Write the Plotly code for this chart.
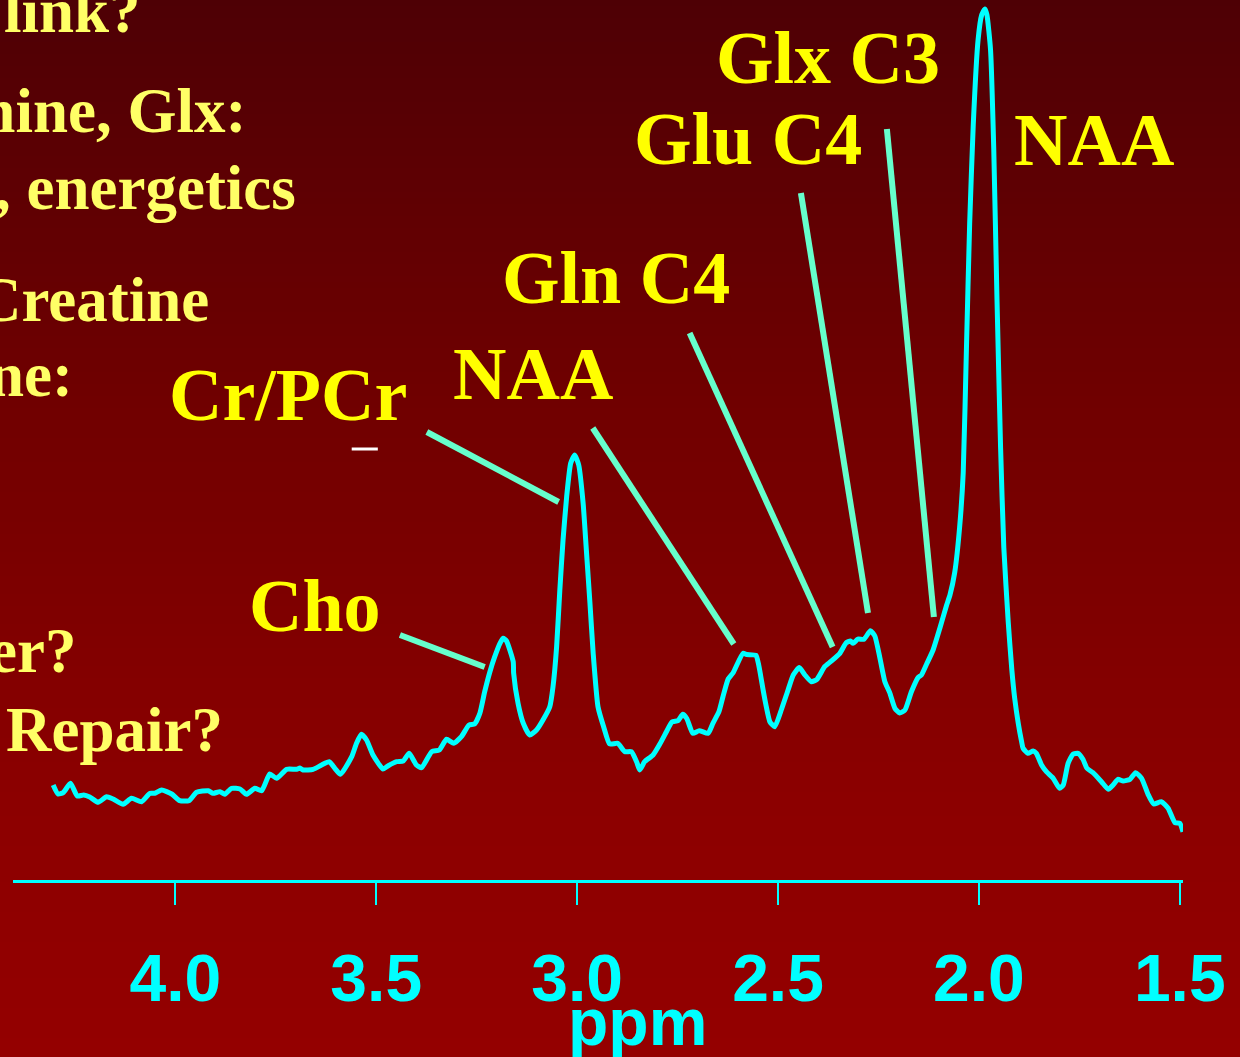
import plotly.graph_objects as go

# ---------------- data ----------------
ppm = [4.304, 4.292, 4.279, 4.261, 4.244, 4.228, 4.213, 4.192, 4.171, 4.155,
       4.130, 4.109, 4.084, 4.063, 4.051, 4.034, 4.009, 3.989, 3.966, 3.947,
       3.918, 3.906, 3.889, 3.877, 3.860, 3.839, 3.823, 3.802, 3.785, 3.765,
       3.748, 3.723, 3.698, 3.690, 3.682, 3.657, 3.636, 3.617, 3.603, 3.589,
       3.561, 3.549, 3.537, 3.524, 3.508, 3.483, 3.470, 3.449, 3.433, 3.418,
       3.400, 3.387, 3.362, 3.343, 3.325, 3.307, 3.288, 3.269, 3.255, 3.242,
       3.230, 3.217, 3.205, 3.192, 3.184, 3.176, 3.159, 3.158, 3.147, 3.134,
       3.118, 3.101, 3.085, 3.068, 3.060, 3.051, 3.043, 3.035, 3.026, 3.016,
       3.006, 2.996, 2.985, 2.977, 2.968, 2.960, 2.948, 2.934, 2.919, 2.899,
       2.881, 2.865, 2.852, 2.844, 2.832, 2.811, 2.794, 2.778, 2.764, 2.749,
       2.737, 2.727, 2.712, 2.696, 2.674, 2.662, 2.647, 2.637, 2.624, 2.612,
       2.587, 2.578, 2.555, 2.548, 2.537, 2.530, 2.520, 2.508, 2.491, 2.475,
       2.462, 2.447, 2.433, 2.417, 2.403, 2.384, 2.369, 2.346, 2.330, 2.320,
       2.313, 2.301, 2.286, 2.270, 2.259, 2.247, 2.234, 2.222, 2.209, 2.197,
       2.184, 2.168, 2.151, 2.143, 2.130, 2.114, 2.097, 2.081, 2.072, 2.060,
       2.048, 2.039, 2.031, 2.023, 2.014, 2.002, 1.993, 1.985, 1.980, 1.971,
       1.963, 1.955, 1.946, 1.938, 1.927, 1.918, 1.911, 1.902, 1.894, 1.890,
       1.878, 1.865, 1.857, 1.844, 1.832, 1.815, 1.799, 1.790, 1.778, 1.766,
       1.753, 1.741, 1.731, 1.716, 1.695, 1.678, 1.666, 1.654, 1.641, 1.624,
       1.610, 1.595, 1.579, 1.565, 1.546, 1.529, 1.512, 1.500, 1.492]

intensity = [95, 86, 87.3, 96.7, 84, 85, 83, 77.7, 83.3, 81,
             75.7, 81.7, 78.3, 86.7, 86.7, 90, 86, 79.3, 79.3, 87.7,
             89.3, 86.7, 88.3, 85.7, 91.7, 91, 85.7, 91.7, 89.3, 106,
             101.7, 110.7, 110.7, 112, 110, 110.7, 115, 118.3, 111.7, 105.7,
             123.3, 136.7, 145.7, 140, 125, 111, 114.3, 118.3, 119, 126.7,
             115, 112.3, 128.3, 130, 140.7, 136.7, 143.3, 155, 156, 166.7,
             188.3, 208.3, 223.3, 236.7, 241.7, 239.3, 218.3, 207, 176.7, 156.7,
             145, 150, 160, 173.3, 193.3, 233.3, 290, 340, 383.3, 416.7,
             425, 415, 376.7, 330, 276.7, 226.7, 173.3, 153.3, 136, 136.7,
             128.3, 128.3, 118.3, 110, 118.3, 125, 136, 148, 158, 159.3,
             165.7, 161.5, 146.7, 149.3, 146.7, 156.7, 168.3, 183.3, 201, 207,
             226.7, 225.5, 224.7, 215, 190, 175, 158, 153.3, 171, 190,
             205, 212.5, 205, 198.3, 200.7, 213.3, 218.3, 226.7, 237.3, 239,
             236.7, 241, 240.7, 249.3, 244, 223.3, 198.3, 187.3, 171.7, 167,
             170, 188.3, 202.7, 205, 216, 230, 252, 274, 285, 308,
             352.6, 407.4, 531.7, 656.1, 755.6, 840.2, 865.1, 871, 865.1, 830.2,
             730.7, 581.5, 432.2, 332.7, 258.1, 210, 182, 156.7, 139, 131.7,
             126.7, 129, 126.7, 115, 108.3, 101.7, 91.7, 95, 116.7, 125.7,
             126.7, 120.7, 111.7, 107.3, 98.3, 90.7, 95, 100.7, 99, 100.7,
             107.3, 101.7, 85.7, 76, 78.3, 71.7, 57.3, 56.7, 48.3]

tick_vals = [4.0, 3.5, 3.0, 2.5, 2.0, 1.5]
tick_text = ["4.0", "3.5", "3.0", "2.5", "2.0", "1.5"]

# peak labels and the points their leader lines join (ppm, intensity)
peak_labels = ["Cho", "Cr/PCr", "NAA", "Gln C4", "Glu C4", "Glx C3"]
leader_from_ppm = [3.441, 3.374, 2.961, 2.720, 2.443, 2.229]
leader_from_int = [245, 448, 452, 547, 687, 751]
leader_to_ppm = [3.230, 3.046, 2.610, 2.364, 2.276, 2.112]
leader_to_int = [213, 378, 236, 233, 267, 263]

left_texts = ["link?", "mine, Glx:", ", energetics", "Creatine", "ne:", "er?", "Repair?"]

# ---------------- layout geometry ----------------
W, H = 1240, 1057
ML, MR, MT, MB = 13, 57, 0, 177
PW, PH = W - ML - MR, H - MT - MB
X_RANGE = [4.404, 1.492]
Y_RANGE = [0, 880]


def px(xpix):
    return (xpix - ML) / PW


def py(ypix):
    return (MT + PH - ypix) / PH


fig = go.Figure()
fig.add_trace(go.Scatter(
    x=ppm, y=intensity, mode="lines",
    line=dict(color="#00ffff", width=5, shape="spline", smoothing=0.5),
    hoverinfo="skip", showlegend=False))

shapes = []
# background gradient (vertical bands)
stops = [(0, (78, 0, 5)), (400, (112, 0, 0)), (800, (140, 0, 0)), (H, (148, 0, 0))]


def col_at(yy):
    for (y0, c0), (y1, c1) in zip(stops[:-1], stops[1:]):
        if y0 <= yy <= y1:
            t = (yy - y0) / (y1 - y0)
            return tuple(round(a + (b - a) * t) for a, b in zip(c0, c1))
    return stops[-1][1]


band = 6
yy = 0
while yy < H:
    c = col_at(yy + band / 2)
    shapes.append(dict(type="rect", xref="paper", yref="paper",
                       x0=px(-2), x1=px(W + 2), y0=py(yy + band + 0.6), y1=py(yy),
                       fillcolor="rgb(%d,%d,%d)" % c, line=dict(width=0), layer="below"))
    yy += band

# leader lines
for x0, y0, x1, y1 in zip(leader_from_ppm, leader_from_int, leader_to_ppm, leader_to_int):
    shapes.append(dict(type="line", xref="x", yref="y", x0=x0, y0=y0, x1=x1, y1=y1,
                       line=dict(color="#66ffcc", width=6)))

# small white dash under Cr/PCr
shapes.append(dict(type="line", xref="x", yref="y", x0=3.561, y0=431, x1=3.496, y1=431,
                   line=dict(color="#ffffff", width=3)))

serif = "Liberation Serif, Times New Roman, serif"
sans = "Liberation Sans, Arial, sans-serif"

annotations = []
label_pos = [(315, 606), (288, 395), (533, 374), (616, 278), (748, 139), (828, 58)]
for txt, (lx, ly) in zip(peak_labels, label_pos):
    annotations.append(dict(text=txt, xref="paper", yref="paper", x=px(lx), y=py(ly),
                            xanchor="center", yanchor="middle", showarrow=False,
                            font=dict(family=serif, size=74, color="#ffff00", weight="bold")))
annotations.append(dict(text="NAA", xref="paper", yref="paper", x=px(1094), y=py(140),
                        xanchor="center", yanchor="middle", showarrow=False,
                        font=dict(family=serif, size=74, color="#ffff00", weight="bold")))

left_pos = [(143, 11), (248, 111), (298, 188), (211, 300), (75, 375), (78, 651), (225, 730)]
for txt, (lx, ly) in zip(left_texts, left_pos):
    annotations.append(dict(text=txt, xref="paper", yref="paper", x=px(lx), y=py(ly),
                            xanchor="right", yanchor="middle", showarrow=False,
                            font=dict(family=serif, size=63, color="#ffff66", weight="bold")))

annotations.append(dict(text="ppm", xref="paper", yref="paper", x=px(637), y=py(1022),
                        xanchor="center", yanchor="middle", showarrow=False,
                        font=dict(family=sans, size=66, color="#00ffff", weight="bold")))

fig.update_layout(
    width=W, height=H, autosize=False,
    margin=dict(l=ML, r=MR, t=MT, b=MB, pad=0),
    paper_bgcolor="#800000", plot_bgcolor="rgba(0,0,0,0)",
    shapes=shapes, annotations=annotations, showlegend=False,
    xaxis=dict(range=X_RANGE, tickvals=tick_vals, ticktext=tick_text,
               showline=True, linecolor="#00ffff", linewidth=3,
               ticks="outside", ticklen=22, tickwidth=2, tickcolor="#00ffff",
               showgrid=False, zeroline=False, ticklabelstandoff=17,
               tickfont=dict(family=sans, size=66, color="#00ffff", weight="bold")),
    yaxis=dict(range=Y_RANGE, visible=False, showgrid=False, zeroline=False),
)

fig.write_html("out.html")
